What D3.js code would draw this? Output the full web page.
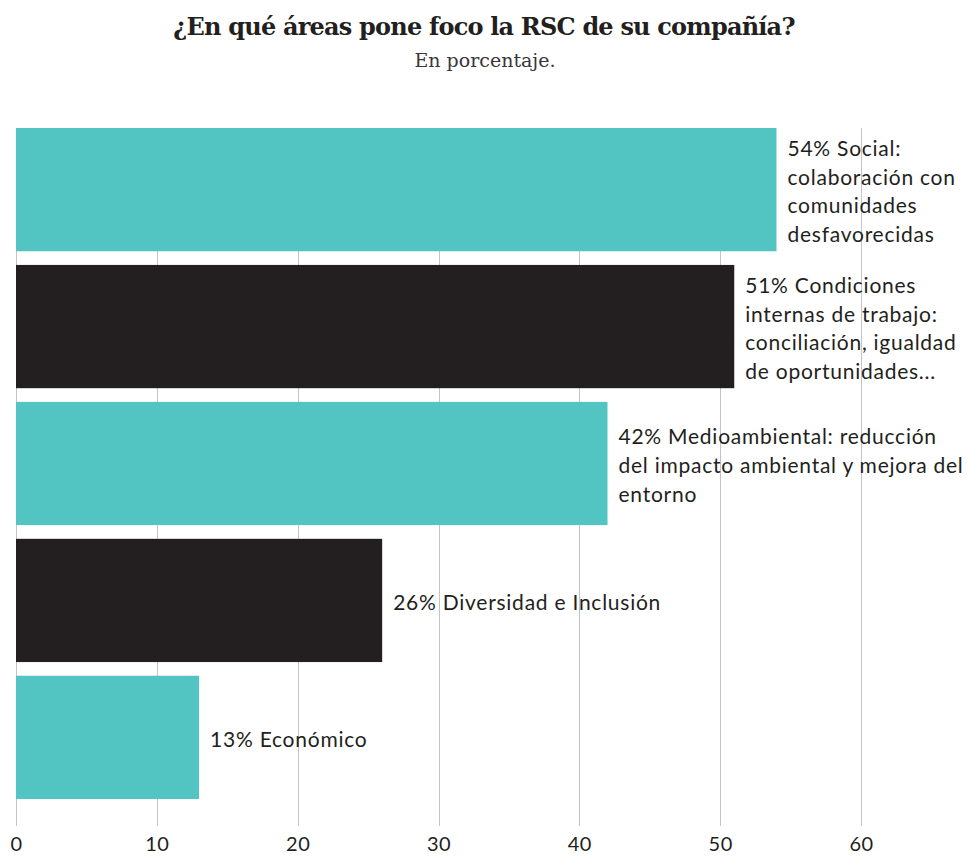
<!DOCTYPE html>
<html>
<head>
<meta charset="utf-8">
<script src="https://cdn.jsdelivr.net/npm/d3@7"></script>
<style>
  html, body { margin: 0; padding: 0; background: #fff; }
  svg { display: block; }
</style>
</head>
<body>
<script>
// Áreas de foco de la RSC, en porcentaje
const categories = [
  ["Social:", "colaboración con", "comunidades", "desfavorecidas"],
  ["Condiciones", "internas de trabajo:", "conciliación, igualdad", "de oportunidades..."],
  ["Medioambiental: reducción", "del impacto ambiental y mejora del", "entorno"],
  ["Diversidad e Inclusión"],
  ["Económico"]
];
const values = [54, 51, 42, 26, 13];
const barColors = ["#52c4c1", "#231f20", "#52c4c1", "#231f20", "#52c4c1"];
const tickValues = [0, 10, 20, 30, 40, 50, 60];

const width = 970, height = 861;
const margin = { left: 16, right: 109, top: 128 };

const svg = d3.select("body").append("svg")
  .attr("width", width)
  .attr("height", height);

const x = d3.scaleLinear()
  .domain([0, 60])
  .range([margin.left, width - margin.right]);

const y = d3.scaleBand()
  .domain(d3.range(values.length))
  .range([margin.top, 799])
  .paddingInner(0.1)
  .paddingOuter(0);

const textColor = "#231f20";
const sans = "Lato, 'Noto Sans', sans-serif";

// Título y subtítulo
svg.append("text")
  .attr("x", 484).attr("y", 35)
  .attr("text-anchor", "middle")
  .style("font-family", "'DejaVu Serif', serif")
  .style("font-weight", "bold")
  .style("font-size", "24px")
  .style("letter-spacing", "-0.8px")
  .attr("fill", textColor)
  .text("¿En qué áreas pone foco la RSC de su compañía?");

svg.append("text")
  .attr("x", 485).attr("y", 67)
  .attr("text-anchor", "middle")
  .style("font-family", "'DejaVu Serif', serif")
  .style("font-size", "19px")
  .style("font-weight", "300")
  .attr("fill", "#3a3637")
  .text("En porcentaje.");

// Líneas de referencia verticales
svg.append("g")
  .selectAll("line")
  .data(tickValues)
  .join("line")
  .attr("x1", d => Math.round(x(d)) + 0.5).attr("x2", d => Math.round(x(d)) + 0.5)
  .attr("y1", margin.top).attr("y2", 826)
  .attr("stroke", "#c4c4c4")
  .attr("stroke-width", 1);

// Eje inferior con etiquetas
const axis = svg.append("g")
  .attr("transform", "translate(0,837)")
  .call(d3.axisBottom(x).tickValues(tickValues).tickSize(0).tickPadding(0));
axis.select(".domain").remove();
axis.selectAll("text")
  .style("font-family", sans)
  .style("font-size", "20px")
  .style("letter-spacing", "0.5px")
  .attr("fill", textColor)
  .attr("dy", "0.71em");

// Barras
svg.append("g")
  .selectAll("rect")
  .data(values)
  .join("rect")
  .attr("x", x(0))
  .attr("y", (d, i) => y(i))
  .attr("width", d => x(d) - x(0))
  .attr("height", y.bandwidth())
  .attr("fill", (d, i) => barColors[i]);

// Etiquetas de valor y categoría
const lineH = 28.7;
const labels = svg.append("g")
  .selectAll("text")
  .data(values)
  .join("text")
  .attr("x", d => x(d) + 11)
  .attr("y", (d, i) => y(i) + y.bandwidth() / 2 - (categories[i].length - 1) * lineH / 2 + 2)
  .style("font-family", sans)
  .style("font-size", "21px")
  .style("letter-spacing", "0.75px")
  .attr("fill", textColor);

labels.each(function(d, i) {
  const t = d3.select(this);
  const bx = x(d) + 11;
  categories[i].forEach((line, j) => {
    t.append("tspan")
      .attr("x", bx)
      .attr("dy", j === 0 ? "0.35em" : lineH)
      .text(j === 0 ? `${d}% ${line}` : line);
  });
});
</script>
</body>
</html>
